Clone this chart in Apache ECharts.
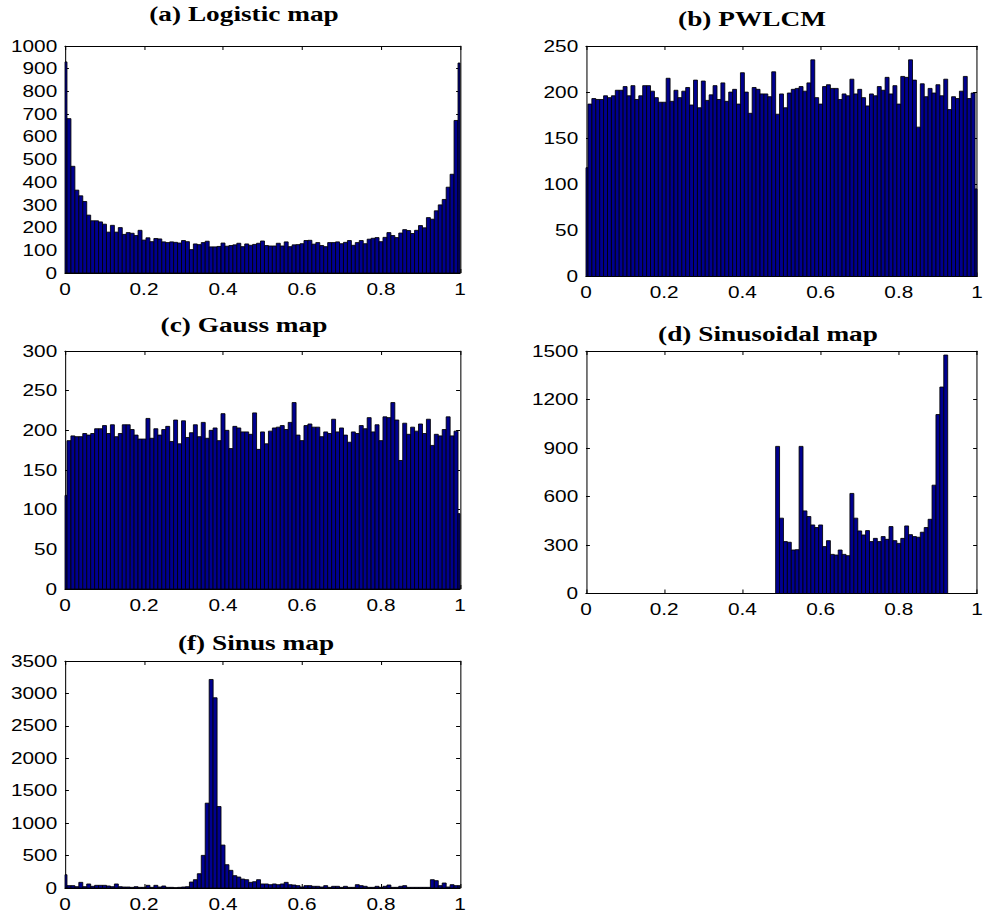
<!DOCTYPE html>
<html>
<head>
<meta charset="utf-8">
<script src="https://cdn.jsdelivr.net/npm/echarts@6/dist/echarts.min.js"></script>
<style>
  html, body { margin: 0; padding: 0; background: #fff; overflow: hidden; }
  /* the figure is laid out narrow and widened horizontally as a whole */
  #chart { width: 759.23px; height: 920px; transform: scaleX(1.3); transform-origin: 0 0; }
</style>
</head>
<body>
<div id="chart"></div>
<script>
// Histogram counts, one value per bin centred at 0.00, 0.01, ..., 1.00
const logisticCounts = [
  930, 680, 470, 365, 340, 315, 255, 230, 230, 225,
  215, 180, 210, 180, 200, 170, 178, 175, 165, 188,
  145, 155, 138, 152, 150, 137, 134, 137, 135, 132,
  143, 138, 103, 128, 125, 134, 140, 115, 115, 117,
  132, 118, 121, 124, 131, 116, 128, 122, 126, 131,
  141, 121, 119, 119, 131, 119, 137, 116, 124, 125,
  129, 143, 144, 127, 134, 121, 116, 134, 134, 137,
  129, 135, 143, 122, 134, 143, 129, 149, 153, 156,
  138, 157, 178, 165, 156, 176, 191, 187, 174, 188,
  209, 199, 244, 237, 274, 300, 324, 378, 435, 672,
  925
];
const pwlcmCounts = [
  118, 187, 193, 192, 192, 196, 194, 196, 202, 202,
  206, 196, 207, 192, 196, 207, 207, 201, 194, 189,
  189, 215, 190, 202, 194, 201, 205, 186, 213, 183,
  212, 191, 197, 207, 192, 210, 190, 200, 203, 187,
  221, 200, 177, 205, 203, 198, 198, 195, 222, 176,
  198, 183, 199, 203, 204, 206, 201, 210, 235, 194,
  187, 206, 208, 204, 204, 192, 198, 196, 214, 198,
  203, 194, 185, 198, 196, 206, 202, 216, 198, 207,
  187, 217, 216, 235, 213, 162, 209, 195, 204, 199,
  208, 196, 214, 181, 195, 193, 201, 217, 193, 199,
  95
];
const gaussCounts = [
  118, 187, 193, 192, 192, 196, 194, 196, 202, 202,
  206, 196, 207, 192, 196, 207, 207, 201, 194, 189,
  189, 215, 190, 202, 194, 201, 205, 186, 213, 183,
  212, 191, 197, 207, 192, 210, 190, 200, 203, 187,
  221, 200, 177, 205, 203, 198, 198, 195, 222, 176,
  198, 183, 199, 203, 204, 206, 201, 210, 235, 194,
  187, 206, 208, 204, 204, 192, 198, 196, 214, 198,
  203, 194, 185, 198, 196, 206, 202, 216, 198, 207,
  187, 217, 216, 235, 213, 162, 209, 195, 204, 199,
  208, 196, 214, 181, 195, 193, 201, 217, 193, 199,
  95
];
const sinusoidalCounts = [
  0, 0, 0, 0, 0, 0, 0, 0, 0, 0,
  0, 0, 0, 0, 0, 0, 0, 0, 0, 0,
  0, 0, 0, 0, 0, 0, 0, 0, 0, 0,
  0, 0, 0, 0, 0, 0, 0, 0, 0, 0,
  0, 0, 0, 0, 0, 0, 0, 0, 0, 910,
  466, 321, 317, 269, 271, 910, 511, 476, 424, 408,
  424, 290, 327, 242, 238, 269, 242, 234, 619, 466,
  387, 362, 389, 321, 341, 321, 352, 335, 414, 327,
  310, 341, 418, 364, 352, 348, 379, 408, 459, 670,
  1107, 1277, 1475, 0, 0, 0, 0, 0, 0, 0,
  0
];
const sinusCounts = [
  205, 36, 36, 20, 87, 20, 62, 26, 41, 41,
  41, 31, 20, 62, 20, 15, 15, 10, 20, 10,
  10, 41, 10, 41, 15, 31, 10, 10, 5, 10,
  15, 20, 92, 128, 220, 503, 1308, 3215, 2933, 1256,
  662, 359, 272, 190, 169, 138, 128, 87, 97, 128,
  62, 62, 51, 62, 51, 62, 87, 51, 46, 36,
  15, 36, 36, 26, 26, 15, 36, 10, 26, 26,
  10, 26, 10, 10, 51, 36, 26, 10, 10, 26,
  10, 26, 46, 10, 10, 26, 36, 10, 10, 10,
  10, 10, 10, 128, 113, 36, 77, 15, 51, 36,
  36
];

const xTicks = [0, 0.2, 0.4, 0.6, 0.8, 1];
const BIN_WIDTH = 0.01;
const SX = 1.3; // horizontal widening applied to the whole figure

// layout in page pixels: plot box [left, top, right, bottom] and title centre
const panels = [
  { title: '(a) Logistic map',   counts: logisticCounts,   yMax: 1000, yStep: 100, box: [65, 46, 460, 273],     titleAt: [244, 14] },
  { title: '(b) PWLCM',          counts: pwlcmCounts,      yMax: 250,  yStep: 50,  box: [586, 46, 980, 276.5],  titleAt: [752, 19] },
  { title: '(c) Gauss map',      counts: gaussCounts,      yMax: 300,  yStep: 50,  box: [65, 351, 460, 589],    titleAt: [244, 325] },
  { title: '(d) Sinusoidal map', counts: sinusoidalCounts, yMax: 1500, yStep: 300, box: [586, 351, 980, 593.5], titleAt: [768, 334] },
  { title: '(f) Sinus map',      counts: sinusCounts,      yMax: 3500, yStep: 500, box: [65, 661, 460, 888],    titleAt: [256, 643] }
];

const labelFont = { color: '#000', fontSize: 16, fontFamily: '"Liberation Sans", Arial, sans-serif' };
const plainNumber = v => String(v);

function histBar(params, api) {
  const c = api.value(0), n = api.value(1);
  if (!(n > 0)) return;
  const tl = api.coord([c - BIN_WIDTH / 2, n]);
  const br = api.coord([c + BIN_WIDTH / 2, 0]);
  const cs = params.coordSys;
  const shape = echarts.graphic.clipRectByRect(
    { x: tl[0], y: tl[1], width: br[0] - tl[0], height: br[1] - tl[1] },
    { x: cs.x, y: cs.y, width: cs.width, height: cs.height }
  );
  if (!shape) return;
  return { type: 'rect', shape: shape, style: { fill: '#00008f', stroke: '#000', lineWidth: 0.75 } };
}

const grids = [], xAxes = [], yAxes = [], series = [], graphics = [];
panels.forEach((p, i) => {
  const [x0, y0, x1, y1] = p.box;
  grids.push({ left: x0 / SX, top: y0, width: (x1 - x0) / SX, height: y1 - y0 });

  const xBase = {
    gridIndex: i, type: 'value', min: xTicks[0], max: xTicks[xTicks.length - 1],
    interval: xTicks[1] - xTicks[0], splitLine: { show: false },
    axisLine: { show: true, onZero: false, lineStyle: { color: '#000', width: 1 } },
    axisTick: { show: true, inside: true, length: 4, lineStyle: { color: '#000', width: 0.8 } }
  };
  xAxes.push(Object.assign({}, xBase, {
    position: 'bottom',
    axisLabel: Object.assign({ show: true, margin: 8, showMinLabel: true, showMaxLabel: true, formatter: plainNumber }, labelFont)
  }));
  xAxes.push(Object.assign({}, xBase, { position: 'top', axisLabel: { show: false } }));

  const yBase = {
    gridIndex: i, type: 'value', min: 0, max: p.yMax, interval: p.yStep,
    splitLine: { show: false },
    axisLine: { show: true, onZero: false, lineStyle: { color: '#000', width: 0.8 } },
    axisTick: { show: true, inside: true, length: 3, lineStyle: { color: '#000', width: 1 } }
  };
  yAxes.push(Object.assign({}, yBase, {
    position: 'left',
    axisLabel: Object.assign({ show: true, margin: 6, showMinLabel: true, showMaxLabel: true, formatter: plainNumber }, labelFont)
  }));
  yAxes.push(Object.assign({}, yBase, { position: 'right', axisLabel: { show: false } }));

  series.push({
    type: 'custom', xAxisIndex: 2 * i, yAxisIndex: 2 * i,
    renderItem: histBar, encode: { x: 0, y: 1 }, silent: true,
    data: p.counts.map((n, k) => [k * BIN_WIDTH, n])
  });

  graphics.push({
    type: 'text', x: p.titleAt[0] / SX, y: p.titleAt[1], silent: true,
    style: { text: p.title, fill: '#000', font: 'bold 21px "Liberation Serif", "Times New Roman", serif',
             align: 'center', verticalAlign: 'middle', textAlign: 'center', textVerticalAlign: 'middle' }
  });
});

const chart = echarts.init(document.getElementById('chart'), null, { renderer: 'svg' });
chart.setOption({
  animation: false,
  backgroundColor: '#fff',
  grid: grids,
  xAxis: xAxes,
  yAxis: yAxes,
  series: series,
  graphic: graphics
});
</script>
</body>
</html>
